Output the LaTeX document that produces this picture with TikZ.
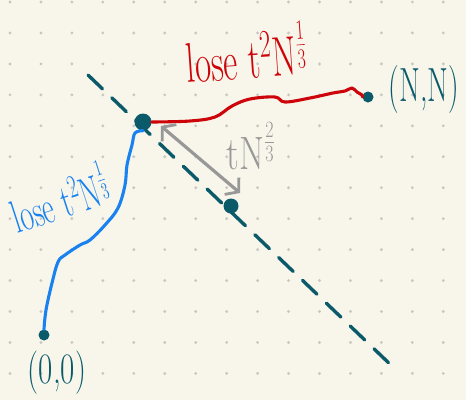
\RequirePackage{fix-cm}
\documentclass[tikz,border=0pt]{standalone}
\usepackage{fontspec}
\usetikzlibrary{arrows.meta}
\definecolor{bg}{RGB}{248,246,235}
\definecolor{dotc}{RGB}{200,200,194}
\definecolor{teal}{RGB}{10,90,106}
\definecolor{redc}{RGB}{205,5,10}
\definecolor{bluec}{RGB}{25,130,240}
\definecolor{grayc}{RGB}{152,152,152}
\newcommand{\tall}[2]{\scalebox{1}[#1]{#2}}
\begin{document}
\begin{tikzpicture}[x=1pt,y=-1pt,
  tdot/.style={circle,fill=teal,inner sep=0pt},
  lbl/.style={inner sep=0pt},
  path/.style={line width=3.1pt,line cap=round,line join=round},
  dashline/.style={teal,line width=3.4pt,dash pattern=on 20pt off 13pt,line cap=round},
  grayarr/.style={grayc,line width=3.2pt,line cap=round,{Straight Barb[length=9pt,width=22pt,line width=2.8pt]}-{Straight Barb[length=9pt,width=22pt,line width=2.8pt]}}]
\fill[bg] (0,0) rectangle (466,400);
\useasboundingbox (0,0) rectangle (466,400);
\foreach \i in {0,...,14} \foreach \j in {0,...,12} \fill[dotc] ({10+30.95*\i},{2+30.95*\j}) circle (1.6pt);
% dashed diagonal
\coordinate (d1) at (88,75);
\coordinate (d2) at (393,367);
\draw[dashline] (d1) -- (d2);
% dots
\node[tdot,minimum size=17pt] (c) at (143,122) {};
\node[tdot,minimum size=11pt] (nn) at (368,97) {};
\node[tdot,minimum size=11pt] (oo) at (44,335) {};
\node[tdot,minimum size=15pt] (m) at (231,206) {};
% red path
\draw[path,redc] plot[smooth,tension=0.6] coordinates {(c.east) (190,121) (215,117) (232,106) (250,99) (275,97) (285,102) (310,98) (333,93) (345,91) (352,88) (357,92) (362,95) (nn.west)};
% blue path
\draw[path,bluec] plot[smooth,tension=0.6] coordinates {(oo.north) (46,310) (52,283) (58,262) (65,255) (80,245) (90,240) (105,225) (118,208) (125,185) (127,165) (132,145) (135,133) (c.south)};
% gray arrow
\coordinate (a1) at (161,126);
\coordinate (a2) at (240,193);
\draw[grayarr] (a1) -- (a2);
% labels
\node[lbl,text=redc,rotate=4,font=\fontsize{35}{40}\selectfont] (lr) at (246,52) {\tall{1.6}{lose $\mathrm{t}^2\mathrm{N}^{\frac{1}{3}}$}};
\node[lbl,text=bluec,rotate=18,font=\fontsize{29}{34}\selectfont] (lb) at (59,197) {\tall{1.6}{lose $\mathrm{t}^2\mathrm{N}^{\frac{1}{3}}$}};
\node[lbl,text=grayc,font=\fontsize{36}{40}\selectfont] (lg) at (251,146) {\tall{1.3}{$\mathrm{tN}^{\frac{2}{3}}$}};
\node[lbl,text=teal,font=\fontsize{30}{34}\selectfont] (lnn) at (424,90) {\tall{1.6}{(N,N)}};
\node[lbl,text=teal,font=\fontsize{31}{34}\selectfont] (loo) at (57,373) {\tall{1.4}{(0,0)}};
\end{tikzpicture}
\end{document}
